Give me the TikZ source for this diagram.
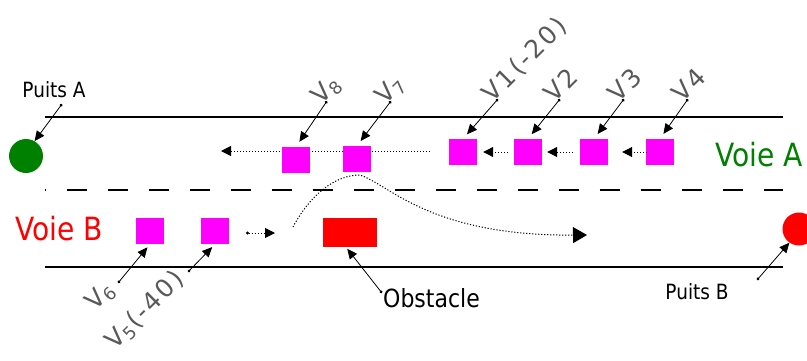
\documentclass[tikz,border=0pt]{standalone}
\usepackage{fontspec}
\setmainfont{DejaVu Sans}[FakeStretch=0.88]
\newfontfamily\labfont{DejaVu Sans}[LetterSpace=10]
\usetikzlibrary{arrows.meta}
\usetikzlibrary{calc}
\definecolor{carcol}{RGB}{255,0,255}
\definecolor{sinkA}{RGB}{0,128,0}

\begin{document}
\begin{tikzpicture}[x=1pt, y=-1pt,
  car/.style={fill=carcol, minimum width=28pt, minimum height=26pt, inner sep=0},
  vlab/.style={rotate=45, text=black!65, inner sep=0, font=\labfont\fontsize{25}{25}\selectfont},
  pin/.style={line width=.8pt, {Circle[length=3pt]}-{Triangle[length=10pt,width=9pt]}},
  move/.style={line width=1pt, dash pattern=on 1.2pt off 1.8pt, -{Triangle[length=10pt,width=10pt]}},
  road/.style={line width=1.5pt},
  big/.style={font=\fontsize{32}{32}\selectfont, anchor=base, inner sep=0}]
\useasboundingbox (0,0) rectangle (807,360);
\draw[road] (45,117) -- (783,117);
\draw[road, dash pattern=on 20.5pt off 20.5pt, dash phase=19.5pt] (45,190) -- (783,190);
\draw[road] (45,267) -- (783,267);

\coordinate (s1) at (430,151);
\coordinate (e1) at (221,151);
\draw[move] (s1) -- (e1);

\foreach \n/\x/\y in {8/296/160,7/357/159,1/463/152,2/528/152,3/594/152,4/660/152,6/150/231,5/215/231}
  \node[car] (v\n) at (\x,\y) {};

\draw[move] ([xshift=-6pt]v2.west) -- ([xshift=6pt]v1.east);
\draw[move] ([xshift=-7pt]v3.west) -- ([xshift=5pt]v2.east);
\draw[move] ([xshift=1pt]v4.west) -- ([xshift=14pt]v3.east);

\coordinate (s5) at (246,233);
\coordinate (e5) at (275,233);
\draw[move, {Circle[length=3pt]}-{Triangle[length=10pt,width=10pt]}] (s5) -- (e5);

\node[fill=red, minimum width=54pt, minimum height=29pt, inner sep=0] (obs) at (350,232.5) {};
\coordinate (c0) at (293,227);
\coordinate (c1) at (587,235);
\draw[move, -{Triangle[length=14pt,width=16pt]}] (c0) .. controls (310,195) and (335,175) .. (360,175)
  .. controls (390,185) and (430,236) .. (c1);

\node[circle, fill=sinkA, minimum size=34pt, inner sep=0] (pa) at (26,156) {};
\node[circle, fill=red, minimum size=33pt, inner sep=0] (pb) at (799,229) {};

\node[anchor=base, inner sep=0, font=\fontsize{21}{21}\selectfont] (ta) at (54,97) {Puits A};
\node[anchor=base, inner sep=0, font=\fontsize{21}{21}\selectfont] (tb) at (697,299) {Puits B};
\coordinate (da) at (62,104);
\coordinate (db) at (757,280);
\draw[pin] (da) -- (pa.60);
\draw[pin] (db) -- (pb.235);

\node[big, text=sinkA] (voa) at (759,166) {Voie A};
\node[big, text=red] (vob) at (59,240) {Voie B};

\node[anchor=base west, inner sep=0, font=\fontsize{25}{25}\selectfont] (tobs) at (383,307) {Obstacle};
\coordinate (dob) at (382,293);
\draw[pin, shorten >=2pt] (dob) -- ($(obs.south)+(-4,0)$);

\foreach \n/\x/\y/\lab in {8/327/101/{V\textsubscript{8}},7/391/101/{V\textsubscript{7}},1/498/99/{V1(-20)},2/560/99/V2,3/624/99/V3,4/688/99/V4} {
  \coordinate (d\n) at (\x,\y);
  \node[vlab, anchor=base west] (l\n) at ($(d\n)+(-6,5)$) {\lab};
  \draw[pin, shorten >=6pt] (d\n) -- (v\n.north);
}

\coordinate (d6) at (118,283);
\coordinate (d5) at (188,272);
\node[vlab, anchor=base east] (l6) at ($(d6)+(-2,8)$) {V\textsubscript{6}};
\node[vlab, anchor=base east] (l5) at ($(d5)+(-2,8)$) {V\textsubscript{5}(-40)};
\draw[pin, shorten >=4pt] (d6) -- (v6.south);
\draw[pin, shorten >=4pt] (d5) -- (v5.south);
\end{tikzpicture}
\end{document}
